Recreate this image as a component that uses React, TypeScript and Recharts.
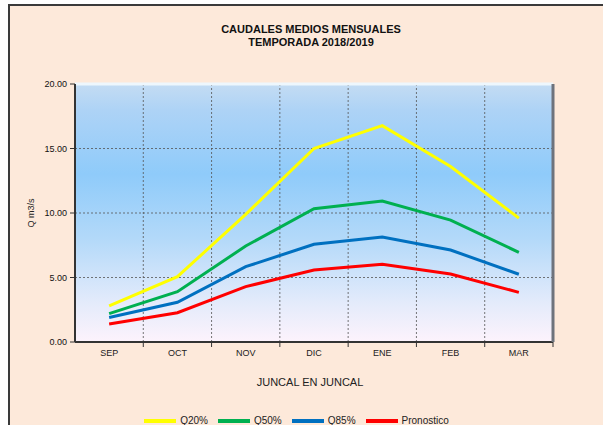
import { LineChart, Line, XAxis, YAxis, CartesianGrid, Legend, ReferenceLine } from 'recharts';

const MONTHS = ['SEP', 'OCT', 'NOV', 'DIC', 'ENE', 'FEB', 'MAR'];
const SERIES_NAMES = ['Q20%', 'Q50%', 'Q85%', 'Pronostico'];
const Q20 = [2.8, 5.06, 9.9, 15.0, 16.77, 13.6, 9.6];
const Q50 = [2.2, 3.9, 7.44, 10.33, 10.93, 9.45, 6.95];
const Q85 = [1.9, 3.08, 5.84, 7.57, 8.14, 7.13, 5.25];
const PRONOSTICO = [1.4, 2.27, 4.29, 5.58, 6.02, 5.27, 3.85];
const Y_TICKS = [0, 5, 10, 15, 20];

const FONT = '"Liberation Sans", Arial, sans-serif';

const data = MONTHS.map((month, i) => ({
  month,
  q20: Q20[i],
  q50: Q50[i],
  q85: Q85[i],
  pron: PRONOSTICO[i],
}));

// labels at band centre, tick marks on the band boundaries
function MonthTick(props: any) {
  const { x, y, payload, width, visibleTicksCount } = props;
  const half = (width ?? 478) / (visibleTicksCount ?? MONTHS.length) / 2;
  const axisY = y - 10;
  return (
    <g>
      <line x1={x + half} x2={x + half} y1={axisY} y2={axisY + 5} stroke="#333" />
      <text x={x} y={axisY + 14} textAnchor="middle" fontSize={9} fill="#222" fontFamily={FONT}>
        {payload.value}
      </text>
    </g>
  );
}

export default function App() {
  return (
    <div style={{ position: 'absolute', left: 0, top: 0, width: 603, height: 425, background: '#fff', fontFamily: FONT }}>
      <div
        style={{
          position: 'absolute',
          left: 8,
          top: 4,
          right: 0,
          bottom: 0,
          background: '#fde9da',
          borderLeft: '2px solid #3a3a3a',
          borderTop: '2px solid #3a3a3a',
        }}
      />
      <div
        style={{
          position: 'absolute',
          left: 311,
          top: 22.5,
          transform: 'translateX(-50%)',
          whiteSpace: 'nowrap',
          textAlign: 'center',
          fontSize: 11,
          lineHeight: '13.5px',
          fontWeight: 'bold',
          color: '#111',
        }}
      >
        CAUDALES MEDIOS MENSUALES
        <br />
        TEMPORADA 2018/2019
      </div>
      <div style={{ position: 'absolute', left: 0, top: 0 }}>
        <LineChart width={603} height={425} data={data} margin={{ top: 84, right: 0, left: 0, bottom: 0 }}>
          <defs>
            <linearGradient id="plotBg" x1="0" y1="0" x2="0" y2="1">
              <stop offset="0" stopColor="#c4dcf3" />
              <stop offset="0.1" stopColor="#aed3f6" />
              <stop offset="0.35" stopColor="#8fcbfa" />
              <stop offset="0.6" stopColor="#b3d9f9" />
              <stop offset="0.85" stopColor="#e4ebfb" />
              <stop offset="1" stopColor="#fdf3fc" />
            </linearGradient>
          </defs>
          <CartesianGrid
            fill="url(#plotBg)"
            fillOpacity={1}
            stroke="#555"
            strokeDasharray="2 2"
            strokeOpacity={0.8}
            verticalCoordinatesGenerator={({ offset }: any) =>
              MONTHS.slice(1).map((_, i) => offset.left + ((i + 1) * offset.width) / MONTHS.length)
            }
          />
          <ReferenceLine y={20} stroke="#eef7fd" strokeWidth={3} />
          <XAxis
            dataKey="month"
            scale="band"
            interval={0}
            height={61}
            tickLine={false}
            tickSize={4}
            tickMargin={6}
            axisLine={{ stroke: '#333', strokeWidth: 2 }}
            tick={<MonthTick />}
            label={{ value: 'JUNCAL EN JUNCAL', position: 'insideTop', offset: 36, dx: -4, fontSize: 11, fill: '#222', fontFamily: FONT }}
          />
          <YAxis
            width={75}
            domain={[0, 20]}
            ticks={Y_TICKS}
            interval={0}
            tickFormatter={(v: number) => v.toFixed(2)}
            tickSize={5}
            tickMargin={3}
            axisLine={{ stroke: '#333', strokeWidth: 2 }}
            tickLine={{ stroke: '#333' }}
            tick={{ fontSize: 9, fill: '#111', fontFamily: FONT }}
            label={{ value: 'Q m3/s', angle: -90, position: 'center', dx: -7, fontSize: 9, fill: '#222', fontFamily: FONT }}
          />
          <YAxis
            yAxisId="edge"
            orientation="right"
            width={50}
            domain={[0, 20]}
            tick={false}
            tickLine={false}
            axisLine={{ stroke: '#6e737c', strokeWidth: 3 }}
          />
          <Legend
            verticalAlign="bottom"
            height={22}
            iconType="plainline"
            iconSize={32}
            itemSorter={(item: any) => SERIES_NAMES.indexOf(item.value)}
            wrapperStyle={{ fontSize: 10, fontFamily: FONT, bottom: -2 }}
            formatter={(value: string) => <span style={{ color: '#222' }}>{value}</span>}
          />
          <Line dataKey="q20" name={SERIES_NAMES[0]} stroke="#ffff00" strokeWidth={3} dot={false} isAnimationActive={false} />
          <Line dataKey="q50" name={SERIES_NAMES[1]} stroke="#00b050" strokeWidth={3} dot={false} isAnimationActive={false} />
          <Line dataKey="q85" name={SERIES_NAMES[2]} stroke="#0070c0" strokeWidth={3} dot={false} isAnimationActive={false} />
          <Line dataKey="pron" name={SERIES_NAMES[3]} stroke="#ff0000" strokeWidth={3} dot={false} isAnimationActive={false} />
        </LineChart>
      </div>
    </div>
  );
}
